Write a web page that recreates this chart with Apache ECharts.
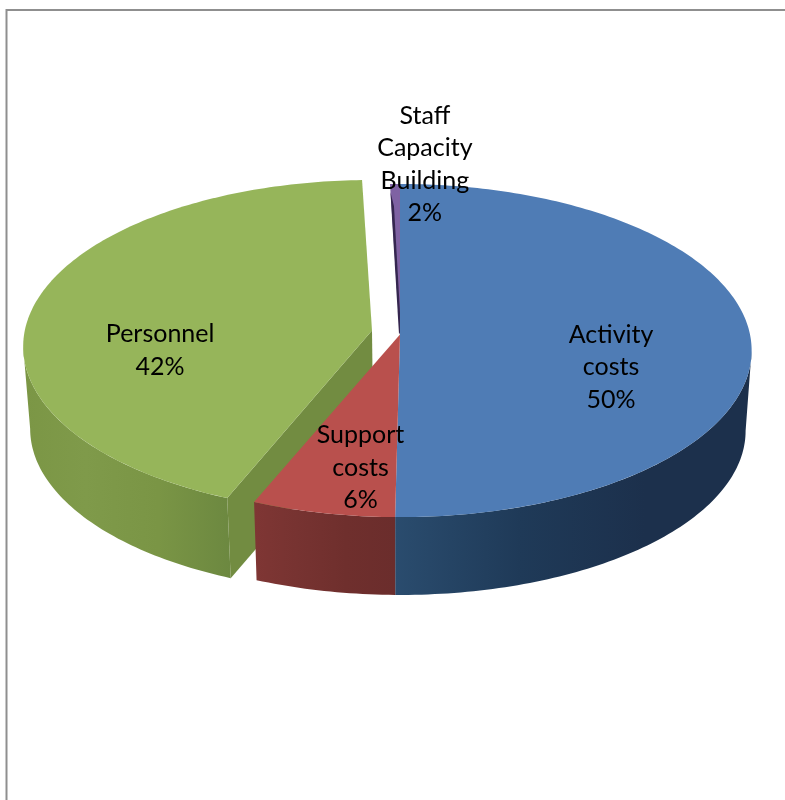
<!DOCTYPE html>
<html>
<head>
<meta charset="utf-8">
<style>html,body{margin:0;padding:0;background:#fff}#c{width:785px;height:800px}</style>
<script src="https://cdn.jsdelivr.net/npm/echarts@6/dist/echarts.min.js"></script>
</head>
<body>
<div id="c"></div>
<script>
// Data
var categories = ['Activity\ncosts', 'Support\ncosts', 'Personnel', 'Staff\nCapacity\nBuilding'];
// Percentages as printed on the reference's labels
var printedPercents = [50, 6, 42, 2];
// Share of the circle each wedge occupies as drawn (the reference's wedges differ a little from the rounded labels)
var wedgeShares = [50.2, 6, 43.3, 0.5];

// Layout and style
var topPlane = {cx: 400, cy: 334.5, rx: 350, ry: 165};
var lowPlane = {cx: 400, cy: 415, rx: 344, ry: 162.6};
var K = 0.0964;
var styles = [
  {top: '#4f7cb5', side: ['#2a4c6e', '#1f3a58', '#1c304c', '#1c304c'], face: '#1c304c', z: 3, off: [0, 0, 0, 0], xs: 1, nudge: [1, 32]},
  {top: '#b9504d', side: ['#7f3634', '#773331', '#6f2f2d', '#6b2d2c'], face: '#6b2d2c', z: 4, off: [0, 0, 0, 0], xs: 1, nudge: [5, 30.5]},
  {top: '#96b55a', side: ['#7b9645', '#7f9a4a', '#7a9545', '#6c8840'], face: '#728c41', z: 1, off: [-28, -4, -27, -2], xs: 0.992, nudge: [-9, 37.5]},
  {top: '#7f62a3', side: ['#35264f', '#35264f', '#35264f', '#35264f'], face: '#35264f', z: 2, off: [0, 0, 0, 0], xs: 1, nudge: [28, -76.5]}
];
var total = wedgeShares.reduce(function (a, b) { return a + b; }, 0);
var rightSilhouette = Math.acos(-K) * 180 / Math.PI;
var leftSilhouette = 360 - rightSilhouette;

function project(p, deg, r, dx, dy, xs) {
  var t = deg * Math.PI / 180, u = Math.sin(t) * r, v = Math.cos(t) * r, w = 1 + K * v;
  return [p.cx + dx + xs * p.rx * u / w, p.cy + dy - p.ry * v / w];
}
function arc(p, a0, a1, dx, dy, xs) {
  var pts = [], n = Math.max(2, Math.ceil(Math.abs(a1 - a0)));
  for (var i = 0; i <= n; i++) pts.push(project(p, a0 + (a1 - a0) * i / n, 1, dx, dy, xs));
  return pts;
}

function renderItem(params, api) {
  var i = params.dataIndex, s = styles[i], before = 0;
  for (var j = 0; j < i; j++) before += wedgeShares[j];
  var a0 = before / total * 360, a1 = (before + api.value(0)) / total * 360;
  var o = s.off;
  var topArc = arc(topPlane, a0, a1, o[0], o[1], s.xs);
  var lowArc = arc(lowPlane, a0, a1, o[2], o[3], s.xs);
  var apexT = project(topPlane, 0, 0, o[0], o[1], s.xs);
  var apexL = project(lowPlane, 0, 0, o[2], o[3], s.xs);
  var children = [];
  // outer wall: only the part facing the viewer
  var lo = Math.max(a0, rightSilhouette), hi = Math.min(a1, leftSilhouette);
  if (lo < hi) {
    var wallTop = arc(topPlane, lo, hi, o[0], o[1], s.xs);
    var wallLow = arc(lowPlane, lo, hi, o[2], o[3], s.xs);
    var ltr = i === 0;
    children.push({
      type: 'polygon', z2: s.z,
      shape: {points: wallTop.concat(wallLow.reverse())},
      style: {fill: new echarts.graphic.LinearGradient(ltr ? 0 : 1, 0, ltr ? 1 : 0, 0, [
        {offset: 0, color: ltr ? s.side[0] : s.side[3]},
        {offset: 0.35, color: ltr ? s.side[1] : s.side[2]},
        {offset: 0.7, color: ltr ? s.side[2] : s.side[1]},
        {offset: 1, color: ltr ? s.side[3] : s.side[0]}
      ])}
    });
  }
  // cut face of the exploded wedge
  if (i === 2) {
    children.push({
      type: 'polygon', z2: s.z,
      shape: {points: [apexT, topArc[0], lowArc[0], apexL]},
      style: {fill: s.face}
    });
  }
  // top surface
  children.push({
    type: 'polygon', z2: s.z + 0.5,
    shape: {points: [apexT].concat(topArc)},
    style: {fill: s.top}
  });
  // dark edge of the thin wedge
  if (i === 3) {
    var rim = topArc[0];
    children.push({
      type: 'polygon', z2: s.z + 0.6,
      shape: {points: [[rim[0] + 0.5, rim[1] + 8], [apexT[0] - 1, apexT[1]], [apexT[0] + 1, apexT[1] - 4], [rim[0] + 4, rim[1] + 22]]},
      style: {fill: s.face}
    });
  }
  // label
  var anchor = project(topPlane, (a0 + a1) / 2, 0.6, o[0], o[1], s.xs);
  children.push({
    type: 'text', z2: 100,
    style: {
      text: categories[i] + '\n' + api.value(1) + '%',
      x: anchor[0] + s.nudge[0], y: anchor[1] + s.nudge[1],
      align: 'center', verticalAlign: 'middle',
      fontFamily: 'Lato', fontSize: 25, lineHeight: 32.5, fill: '#000'
    }
  });
  return {type: 'group', children: children};
}

var chart = echarts.init(document.getElementById('c'), null, {renderer: 'canvas'});
chart.setOption({
  animation: false,
  backgroundColor: '#fff',
  graphic: [
    {type: 'polyline', shape: {points: [[6.5, 800], [6.5, 10], [785, 10]]}, style: {fill: null, stroke: '#8f8f8f', lineWidth: 2}}
  ],
  series: [{
    type: 'custom',
    coordinateSystem: 'none',
    renderItem: renderItem,
    data: wedgeShares.map(function (v, i) { return [v, printedPercents[i]]; })
  }]
});
</script>
</body>
</html>
